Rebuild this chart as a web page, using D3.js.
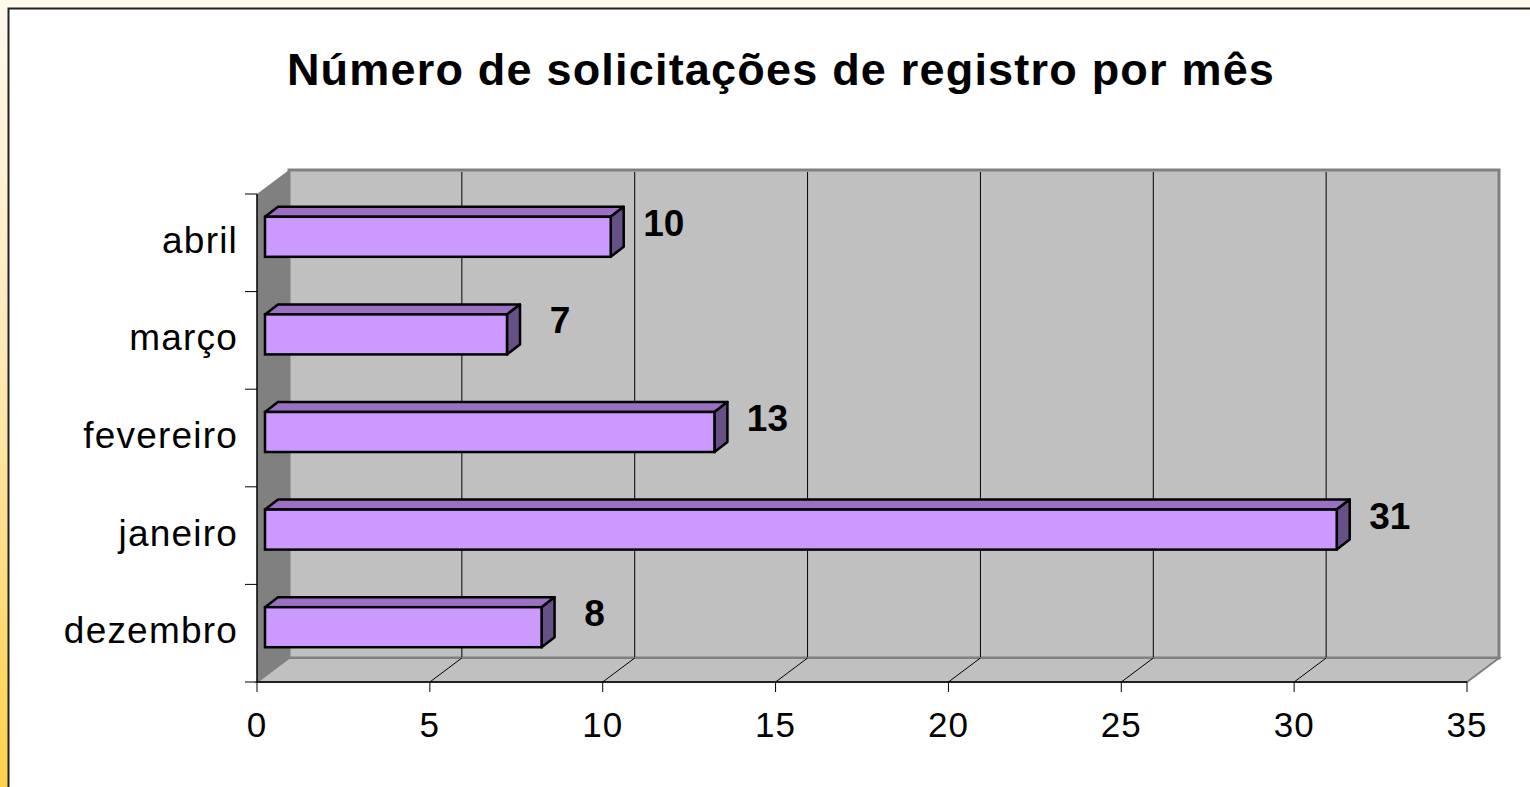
<!DOCTYPE html>
<html>
<head>
<meta charset="utf-8">
<script src="https://cdn.jsdelivr.net/npm/d3@7"></script>
<style>
  html, body { margin: 0; padding: 0; }
  body { width: 1530px; height: 787px; overflow: hidden;
         background: linear-gradient(to bottom, #fff9ec 0%, #ffe9b8 45%, #ffd24c 100%); }
  svg { display: block; font-family: "Liberation Sans", Arial, sans-serif; }
</style>
</head>
<body>
<div id="chart"></div>
<script>
var months = ["dezembro", "janeiro", "fevereiro", "março", "abril"];
var counts = [8, 31, 13, 7, 10];
var xTicks = [0, 5, 10, 15, 20, 25, 30, 35];
var title = "Número de solicitações de registro por mês";

var width = 1530;
var height = 787;

var svg = d3.select("#chart")
      .append("svg")
      .attr("width", width)
      .attr("height", height);

// chart frame
svg.append("rect")
   .attr("x", 8.5).attr("y", 8.5)
   .attr("width", 1540).attr("height", 800)
   .attr("fill", "#fff")
   .attr("stroke", "#222")
   .attr("stroke-width", 2);

svg.append("text")
   .attr("x", 781)
   .attr("y", 85)
   .attr("text-anchor", "middle")
   .attr("font-size", 45)
   .attr("font-weight", "bold")
   .attr("letter-spacing", 1.2)
   .text(title);

var x = d3.scaleLinear().domain([0, 35]).range([257, 1467]);
var y = d3.scaleBand().domain(months).range([682, 194]);
var yBar = d3.scaleBand().domain(months).range([682, 194])
      .paddingInner(0.59).paddingOuter(0.295);

// depth of the 3d box
var DX = 32, DY = -24;
// bar front offset and bar depth
var BX = 8, BY = -6, BDX = 13, BDY = -10;

var plotTop = 194, plotBottom = 682;
var g = svg.append("g");

function pts(a) { return a.map(function(p){ return p.join(","); }).join(" "); }

// back wall
g.append("rect")
  .attr("x", x(0) + DX).attr("y", plotTop + DY)
  .attr("width", x(35) - x(0)).attr("height", plotBottom - plotTop)
  .attr("fill", "#c0c0c0")
  .attr("stroke", "#808080")
  .attr("stroke-width", 3);

// side wall
g.append("polygon")
  .attr("points", pts([[x(0), plotTop], [x(0) + DX, plotTop + DY], [x(0) + DX, plotBottom + DY], [x(0), plotBottom]]))
  .attr("fill", "#808080");

// floor
g.append("polygon")
  .attr("points", pts([[x(0), plotBottom], [x(0) + DX, plotBottom + DY], [x(35) + DX, plotBottom + DY], [x(35), plotBottom]]))
  .attr("fill", "#c0c0c0")
  .attr("stroke", "#808080")
  .attr("stroke-width", 2);

// gridlines on wall and floor
var grid = xTicks.filter(function(d){ return d > 0 && d < 35; });
g.selectAll(".gwall").data(grid).enter().append("line")
  .attr("x1", function(d){ return x(d) + DX; }).attr("x2", function(d){ return x(d) + DX; })
  .attr("y1", plotTop + DY + 2).attr("y2", plotBottom + DY - 1)
  .attr("stroke", "#000").attr("stroke-width", 1);
g.selectAll(".gfloor").data(grid).enter().append("line")
  .attr("x1", function(d){ return x(d); }).attr("x2", function(d){ return x(d) + DX; })
  .attr("y1", plotBottom).attr("y2", plotBottom + DY)
  .attr("stroke", "#000").attr("stroke-width", 1);

// axes lines
g.append("line").attr("x1", x(0)).attr("x2", x(35)).attr("y1", plotBottom).attr("y2", plotBottom)
  .attr("stroke", "#000").attr("stroke-width", 1.5);
g.append("line").attr("x1", x(0)).attr("x2", x(0)).attr("y1", plotTop).attr("y2", plotBottom)
  .attr("stroke", "#000").attr("stroke-width", 1.5);

// x ticks + labels
g.selectAll(".xt").data(xTicks).enter().append("line")
  .attr("x1", function(d){ return x(d); }).attr("x2", function(d){ return x(d); })
  .attr("y1", plotBottom).attr("y2", plotBottom + 10)
  .attr("stroke", "#000").attr("stroke-width", 1);
g.selectAll(".xl").data(xTicks).enter().append("text")
  .attr("x", function(d){ return x(d); })
  .attr("y", 737)
  .attr("text-anchor", "middle")
  .attr("font-size", 35)
  .attr("letter-spacing", 1)
  .text(function(d){ return d; });

// y ticks + labels
var yEdges = months.map(function(m){ return y(m); }).concat([plotBottom]);
g.selectAll(".yt").data(yEdges).enter().append("line")
  .attr("x1", x(0) - 12).attr("x2", x(0))
  .attr("y1", function(d){ return d; }).attr("y2", function(d){ return d; })
  .attr("stroke", "#000").attr("stroke-width", 1);
g.selectAll(".yl").data(months).enter().append("text")
  .attr("x", 238)
  .attr("y", function(d){ return y(d) + y.bandwidth() / 2 + 10; })
  .attr("text-anchor", "end")
  .attr("font-size", 37)
  .attr("letter-spacing", 1.2)
  .text(function(d){ return d; });

// bars
var data = months.map(function(m, i){ return {month: m, value: counts[i]}; });
var bars = g.selectAll(".bar").data(data).enter().append("g");

bars.append("polygon") // top face
  .attr("points", function(d){
    var y0 = yBar(d.month) + BY, x0 = x(0) + BX, x1 = x(d.value) + BX;
    return pts([[x0, y0], [x0 + BDX, y0 + BDY], [x1 + BDX, y0 + BDY], [x1, y0]]);
  })
  .attr("fill", "#9b70c2").attr("stroke", "#000").attr("stroke-width", 2.5)
  .attr("stroke-linejoin", "round");
bars.append("polygon") // side face
  .attr("points", function(d){
    var y0 = yBar(d.month) + BY, y1 = y0 + yBar.bandwidth(), x1 = x(d.value) + BX;
    return pts([[x1, y0], [x1 + BDX, y0 + BDY], [x1 + BDX, y1 + BDY], [x1, y1]]);
  })
  .attr("fill", "#665085").attr("stroke", "#000").attr("stroke-width", 2.5)
  .attr("stroke-linejoin", "round");
bars.append("rect") // front face
  .attr("x", x(0) + BX)
  .attr("y", function(d){ return yBar(d.month) + BY; })
  .attr("width", function(d){ return x(d.value) - x(0); })
  .attr("height", yBar.bandwidth())
  .attr("fill", "#cc99ff").attr("stroke", "#000").attr("stroke-width", 2.5);

bars.append("text")
  .attr("x", function(d){ return x(d.value) + BX + BDX + 40; })
  .attr("y", function(d){ return y(d.month) + y.bandwidth() / 2 - 7; })
  .attr("text-anchor", "middle")
  .attr("font-size", 37)
  .attr("font-weight", "bold")
  .text(function(d){ return d.value; });
</script>
</body>
</html>
